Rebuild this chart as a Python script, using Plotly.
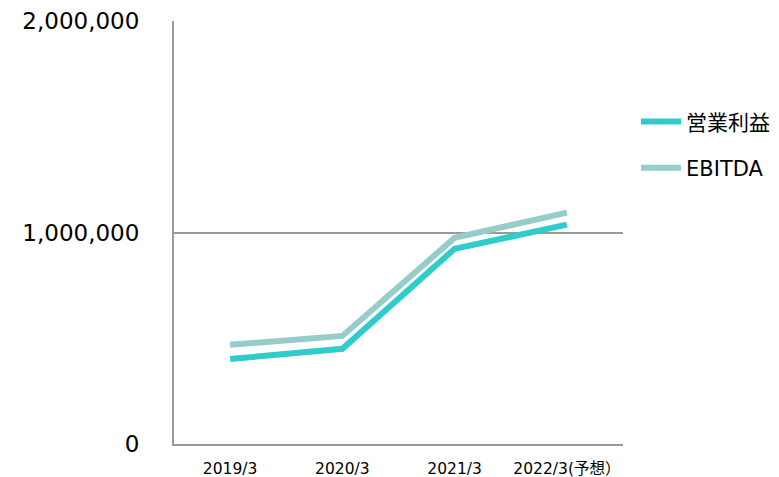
import plotly.graph_objects as go

categories = ["2019/3", "2020/3", "2021/3", "2022/3(予想）"]
operating_profit = [402000, 450000, 923000, 1037000]
ebitda = [469000, 511000, 975000, 1094000]

fig = go.Figure()
fig.add_trace(go.Scatter(x=categories, y=operating_profit, mode="lines", name="営業利益",
                         line=dict(color="#2ECDCB", width=6), legendgroup="a"))
fig.add_trace(go.Scatter(x=categories, y=ebitda, mode="lines", name="EBITDA",
                         line=dict(color="#96CCC9", width=6), legendgroup="b"))

fig.update_layout(
    width=779, height=477,
    margin=dict(l=174, r=156, t=21, b=33, autoexpand=False),
    paper_bgcolor="white", plot_bgcolor="white",
    font=dict(family="DejaVu Sans, Noto Sans CJK JP", color="#000000"),
    showlegend=True,
    legend=dict(x=1.029, y=0.81, xanchor="left", yanchor="top",
                font=dict(size=21, family="DejaVu Sans, Noto Sans CJK JP"),
                tracegroupgap=16, itemwidth=40, bgcolor="rgba(0,0,0,0)"),
    xaxis=dict(type="category", range=[-0.5, 3.5], showgrid=False, showline=True,
               linecolor="#999999", linewidth=2, tickfont=dict(size=15.5),
               ticks="", ticklabelstandoff=9, fixedrange=True, automargin=False),
    yaxis=dict(range=[0, 2000000], tickvals=[0, 1000000, 2000000],
               ticktext=["0", "1,000,000", "2,000,000"],
               showgrid=True, gridcolor="#999999", gridwidth=2,
               showline=True, linecolor="#999999", linewidth=2,
               zeroline=False, tickfont=dict(size=23), ticks="",
               ticklabelstandoff=28, fixedrange=True, automargin=False),
)

fig.write_html("out.html", config={"displayModeBar": False},
               post_script="document.body.style.margin='0px';document.body.style.overflow='hidden';")
